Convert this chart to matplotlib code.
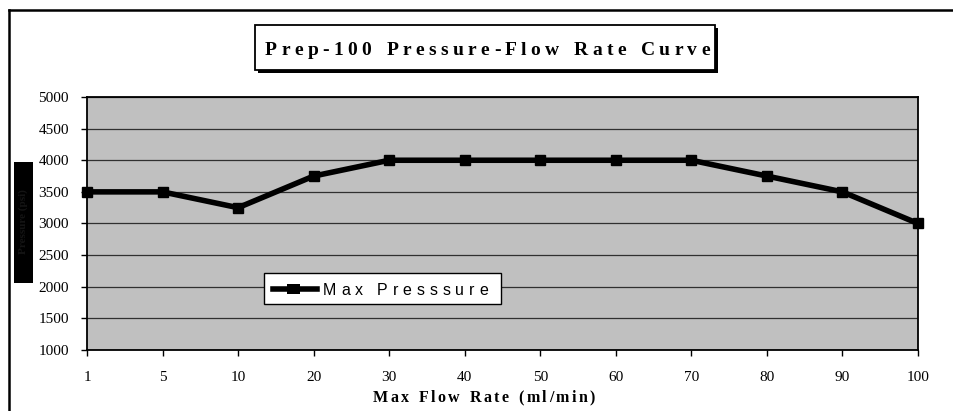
import matplotlib.pyplot as plt
import numpy as np
from matplotlib.patches import Rectangle
from matplotlib.lines import Line2D
from matplotlib.textpath import TextToPath
from matplotlib.font_manager import FontProperties

flow_rates = ['1', '5', '10', '20', '30', '40', '50', '60', '70', '80', '90', '100']
max_pressure = [3500, 3500, 3250, 3750, 4000, 4000, 4000, 4000, 4000, 3750, 3500, 3000]
y_ticks = [1000, 1500, 2000, 2500, 3000, 3500, 4000, 4500, 5000]
title_text = 'Prep-100 Pressure-Flow Rate Curve'
x_title = 'Max Flow Rate (ml/min)'
y_title = 'Pressure (psi)'
series_name = 'Max Presssure'

W, H = 954, 411
fig = plt.figure(figsize=(W / 100, H / 100), dpi=100)
ttp = TextToPath()


def spaced_text(x0, x1, yb, text, fp, space_w, **kw):
    # letter-spaced text between pixel x0 and x1, baseline on pixel row yb
    widths = []
    for ch in text:
        if ch == ' ':
            widths.append(space_w)
        else:
            w = ttp.get_text_width_height_descent(ch, fp, ismath=False)[0]
            widths.append(w * 100 / 72)
    gap = (x1 - x0 - sum(widths)) / (len(text) - 1)
    cx = x0
    for ch, w in zip(text, widths):
        if ch != ' ':
            fig.text(cx / W, 1 - yb / H, ch, fontproperties=fp, ha='left',
                     va='baseline', **kw)
        cx += w + gap


# plot area in pixels: left 87, right 918, top 97, bottom 350
ax = fig.add_axes([87 / W, 1 - 350 / H, (918 - 87) / W, (350 - 97) / H])
ax.set_facecolor('#c0c0c0')
x = np.arange(len(flow_rates))
ax.plot(x, max_pressure, color='black', lw=4, marker='s', ms=7.5,
        solid_joinstyle='miter', clip_on=False, zorder=5)
ax.set_xlim(0, len(flow_rates) - 1)
ax.set_ylim(1000, 5000)
ax.set_yticks(y_ticks)
ax.set_xticks(x, flow_rates)
ax.yaxis.grid(True, color='#303030', lw=0.9)
ax.set_axisbelow(True)
for s in ax.spines.values():
    s.set_linewidth(1.3)
    s.set_color('black')
ax.tick_params(axis='both', direction='out', length=4, width=1, color='black',
               labelsize=11, labelfontfamily='Liberation Serif')
ax.tick_params(axis='y', pad=9)
ax.tick_params(axis='x', pad=11)

# x axis title
fp_x = FontProperties(family='Liberation Serif', weight='bold', size=11.5)
spaced_text(373, 595, 402, x_title, fp_x, 5)

# legend box drawn by hand so its text can be letter-spaced
fig.add_artist(Rectangle((264 / W, 1 - 304 / H), (501 - 264) / W, (304 - 273) / H,
                         transform=fig.transFigure, fc='white', ec='black', lw=1,
                         zorder=10))
fig.add_artist(Line2D([273 / W, 317 / W], [1 - 288.5 / H, 1 - 288.5 / H], color='black',
                      lw=4, transform=fig.transFigure, zorder=11))
fig.add_artist(Rectangle((287 / W, 1 - 293.5 / H), 13 / W, 10 / H,
                         transform=fig.transFigure, fc='black', ec='black', lw=0,
                         zorder=11))
fp_leg = FontProperties(family='Liberation Sans', size=11.5)
spaced_text(323, 488, 295, series_name, fp_leg, 4, zorder=12)

# y axis title in a black box
fig.add_artist(Rectangle((14 / W, 1 - 283 / H), 19 / W, 121 / H,
                         transform=fig.transFigure, fc='black', ec='black', lw=0))
fig.text(23.5 / W, 1 - 222 / H, y_title, rotation=90, ha='center', va='center',
         fontsize=8, fontfamily='Liberation Serif', fontweight='bold', color='#151515')

# figure frame (cropped chart border)
fig.add_artist(Line2D([9 / W, 9 / W], [0, 1 - 10 / H], color='black', lw=1.8,
                      transform=fig.transFigure))
fig.add_artist(Line2D([9 / W, 1], [1 - 10 / H, 1 - 10 / H], color='black', lw=1.8,
                      transform=fig.transFigure))

# title box with shadow
bx0, bx1, by0, by1 = 255, 715, 25, 70
fig.add_artist(Rectangle(((bx0 + 3) / W, 1 - (by1 + 3) / H), (bx1 - bx0) / W, (by1 - by0) / H,
                         transform=fig.transFigure, fc='black', ec='black', lw=0))
fig.add_artist(Rectangle((bx0 / W, 1 - by1 / H), (bx1 - bx0) / W, (by1 - by0) / H,
                         transform=fig.transFigure, fc='white', ec='black', lw=1.3))

fp_t = FontProperties(family='Liberation Serif', weight='bold', size=14)
spaced_text(265, 710, 55, title_text, fp_t, 6)

fig.savefig('out.png', dpi=100)
